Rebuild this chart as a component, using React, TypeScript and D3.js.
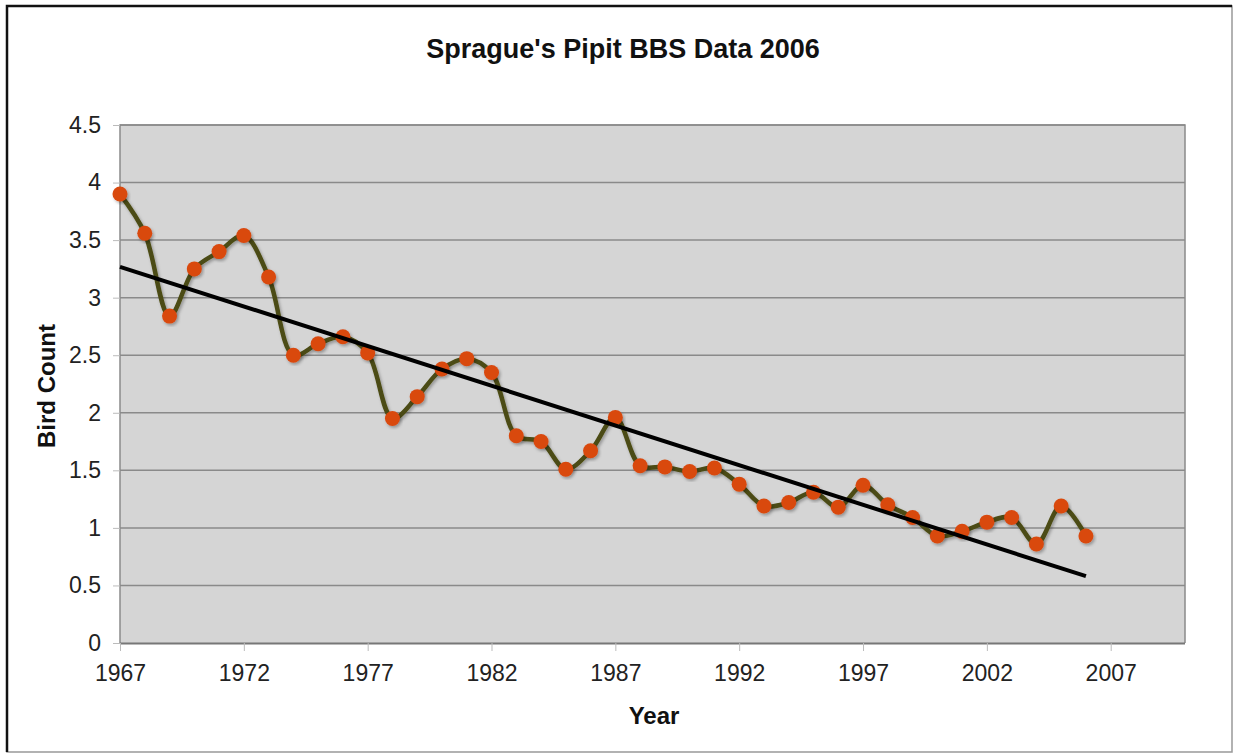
import React, { useEffect, useRef } from 'react'
import * as d3 from 'd3'

const years = [
  1967, 1968, 1969, 1970, 1971, 1972, 1973, 1974, 1975, 1976,
  1977, 1978, 1979, 1980, 1981, 1982, 1983, 1984, 1985, 1986,
  1987, 1988, 1989, 1990, 1991, 1992, 1993, 1994, 1995, 1996,
  1997, 1998, 1999, 2000, 2001, 2002, 2003, 2004, 2005, 2006
]
const birdCounts = [
  3.90, 3.56, 2.84, 3.25, 3.40, 3.54, 3.18, 2.50, 2.60, 2.66,
  2.52, 1.95, 2.14, 2.38, 2.47, 2.35, 1.80, 1.75, 1.51, 1.67,
  1.96, 1.54, 1.53, 1.49, 1.52, 1.38, 1.19, 1.22, 1.31, 1.18,
  1.37, 1.20, 1.09, 0.93, 0.97, 1.05, 1.09, 0.86, 1.19, 0.93
]
const xTicks = [1967, 1972, 1977, 1982, 1987, 1992, 1997, 2002, 2007]
const yTicks = [0, 0.5, 1, 1.5, 2, 2.5, 3, 3.5, 4, 4.5]

const W = 1233
const H = 754
const margin = { top: 125, right: 48, bottom: 111, left: 120 }

export default function App() {
  const svgRef = useRef<SVGSVGElement>(null)

  useEffect(() => {
    if (!svgRef.current) return
    const svg = d3.select(svgRef.current)
    svg.selectAll('*').remove()

    const innerW = W - margin.left - margin.right
    const innerH = H - margin.top - margin.bottom
    const font = 'Arial, "Liberation Sans", sans-serif'

    const defs = svg.append('defs')
    const f = defs.append('filter').attr('id', 'shadow')
      .attr('x', '-20%').attr('y', '-20%').attr('width', '140%').attr('height', '140%')
    f.append('feDropShadow')
      .attr('dx', 1.5).attr('dy', 2).attr('stdDeviation', 1.5)
      .attr('flood-color', '#000').attr('flood-opacity', 0.3)

    // outer frame
    svg.append('rect')
      .attr('x', 7).attr('y', 6).attr('width', 1225).attr('height', 746)
      .attr('fill', '#fff').attr('stroke', '#999').attr('stroke-width', 1.5)
    svg.append('path')
      .attr('d', 'M7,752 V6 H1232')
      .attr('fill', 'none').attr('stroke', '#111').attr('stroke-width', 2.5)

    const x = d3.scaleLinear().domain([1967, 2010]).range([0, innerW])
    const y = d3.scaleLinear().domain([0, 4.5]).range([innerH, 0])

    const g = svg.append('g').attr('transform', `translate(${margin.left},${margin.top})`)

    g.append('rect')
      .attr('width', innerW).attr('height', innerH)
      .attr('fill', '#d5d5d5')

    // gridlines
    g.selectAll('line.grid')
      .data(yTicks.filter(t => t > 0))
      .join('line')
      .attr('class', 'grid')
      .attr('x1', 0).attr('x2', innerW)
      .attr('y1', d => y(d)).attr('y2', d => y(d))
      .attr('stroke', '#8a8a8a').attr('stroke-width', 1.5)

    // plot border
    g.append('path')
      .attr('d', `M0,${innerH} V0 H${innerW} V${innerH}`)
      .attr('fill', 'none').attr('stroke', '#8a8a8a').attr('stroke-width', 1.5)

    // x axis
    const xAxis = g.append('g').attr('transform', `translate(0,${innerH})`)
      .call(d3.axisBottom(x).tickValues(xTicks).tickFormat(d3.format('d')).tickSizeOuter(0).tickSize(8).tickPadding(14))
    xAxis.select('.domain').attr('stroke', '#777').attr('stroke-width', 2)
      .attr('d', `M0,0.5H${innerW}`)
    xAxis.selectAll('.tick line').attr('stroke', '#bbb')
    xAxis.selectAll('.tick text')
      .attr('font-family', font).attr('font-size', 23).attr('fill', '#222')

    // y axis
    const yAxis = g.append('g')
      .call(d3.axisLeft(y).tickValues(yTicks).tickFormat(d => String(d)).tickSizeOuter(0).tickSize(7).tickPadding(12))
    yAxis.select('.domain').remove()
    yAxis.selectAll('.tick line').attr('stroke', '#bbb')
    yAxis.selectAll('.tick text')
      .attr('font-family', font).attr('font-size', 23).attr('fill', '#222')

    const pts = years.map((yr, i) => [yr, birdCounts[i]] as [number, number])

    // data line (smoothed)
    const line = d3.line<[number, number]>()
      .x(d => x(d[0])).y(d => y(d[1]))
      .curve(d3.curveCatmullRom.alpha(0.5))
    g.append('path')
      .datum(pts)
      .attr('d', line)
      .attr('fill', 'none')
      .attr('stroke', '#4b4b12')
      .attr('stroke-width', 4.5)
      .attr('filter', 'url(#shadow)')

    g.selectAll('circle.pt')
      .data(pts)
      .join('circle')
      .attr('class', 'pt')
      .attr('cx', d => x(d[0])).attr('cy', d => y(d[1]))
      .attr('r', 7.5)
      .attr('fill', '#d9480f')
      .attr('filter', 'url(#shadow)')

    // linear trend line
    const mx = d3.mean(years) as number
    const my = d3.mean(birdCounts) as number
    let num = 0
    let den = 0
    years.forEach((yr, i) => {
      num += (yr - mx) * (birdCounts[i] - my)
      den += (yr - mx) * (yr - mx)
    })
    const slope = num / den
    const icpt = my - slope * mx
    const x0 = years[0]
    const x1 = years[years.length - 1]
    g.append('line')
      .attr('x1', x(x0)).attr('y1', y(icpt + slope * x0))
      .attr('x2', x(x1)).attr('y2', y(icpt + slope * x1))
      .attr('stroke', '#000').attr('stroke-width', 4)

    // title and axis labels
    svg.append('text')
      .attr('x', 623).attr('y', 58)
      .attr('text-anchor', 'middle')
      .attr('font-family', font).attr('font-size', 27).attr('font-weight', 'bold')
      .attr('fill', '#111')
      .text("Sprague's Pipit BBS Data 2006")

    svg.append('text')
      .attr('x', 654).attr('y', 724)
      .attr('text-anchor', 'middle')
      .attr('font-family', font).attr('font-size', 24).attr('font-weight', 'bold')
      .attr('fill', '#111')
      .text('Year')

    svg.append('text')
      .attr('transform', `translate(55,386) rotate(-90)`)
      .attr('text-anchor', 'middle')
      .attr('font-family', font).attr('font-size', 24).attr('font-weight', 'bold')
      .attr('fill', '#111')
      .text('Bird Count')
  }, [])

  return (
    <div style={{ position: 'absolute', left: 0, top: 0 }}>
      <svg ref={svgRef} width={W} height={H} style={{ display: 'block' }}></svg>
    </div>
  )
}
